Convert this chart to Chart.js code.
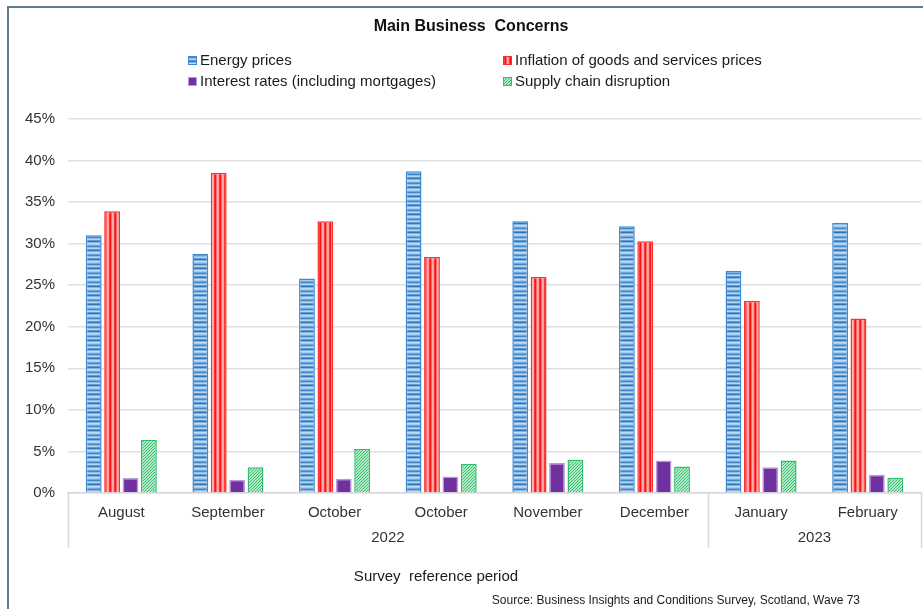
<!DOCTYPE html>
<html>
<head>
<meta charset="utf-8">
<script src="https://cdn.jsdelivr.net/npm/chart.js@4"></script>
<style>
  html, body { margin: 0; padding: 0; background: #fff; }
  #wrap { width: 923px; height: 609px; position: relative; }
</style>
</head>
<body>
<div id="wrap"><canvas id="myChart" width="923" height="609"></canvas></div>
<script>
// survey periods (month labels + year groups)
var meses = ['August', 'September', 'October', 'October', 'November', 'December', 'January', 'February'];
var anhos = ['2022', '2022', '2022', '2022', '2022', '2022', '2023', '2023'];

// share of businesses (%) naming each concern
var energia = [31.0, 28.8, 25.8, 38.7, 32.7, 32.1, 26.7, 32.5];
var inflacion = [33.9, 38.5, 32.7, 28.4, 26.0, 30.3, 23.1, 21.0];
var intereses = [1.8, 1.6, 1.7, 2.0, 3.6, 3.9, 3.1, 2.2];
var suministro = [6.4, 3.1, 5.3, 3.5, 4.0, 3.2, 3.9, 1.8];

var yTicks = [0, 5, 10, 15, 20, 25, 30, 35, 40, 45];

var FONT = '"Liberation Sans", Arial, sans-serif';

// little canvas tiles used as bar fills
function patron(w, h, dibujar) {
    var c = document.createElement('canvas');
    c.width = w;
    c.height = h;
    var g = c.getContext('2d');
    dibujar(g);
    return document.getElementById('myChart').getContext('2d').createPattern(c, 'repeat');
}

var rayasAzules = patron(1, 9, function (g) {
    var cols = ['#c4dcf2', '#a9cbec', '#6fa8dc', '#3f86c8', '#8fbbe6', '#b8d5f0', '#5b9bd5', '#2f78bd', '#7fb0e0'];
    for (var i = 0; i < cols.length; i++) { g.fillStyle = cols[i]; g.fillRect(0, i, 1, 1); }
});
var rayasRojas = patron(5, 1, function (g) {
    var cols = ['#ff1010', '#ff6a6a', '#ffb0b0', '#ff9a9a', '#ff3a3a'];
    for (var i = 0; i < cols.length; i++) { g.fillStyle = cols[i]; g.fillRect(i, 0, 1, 1); }
});
var rayasVerdes = patron(3, 3, function (g) {
    g.fillStyle = '#b6e9c9';
    g.fillRect(0, 0, 3, 3);
    g.fillStyle = '#35bf6c';
    for (var i = 0; i < 3; i++) { g.fillRect(2 - i, i, 1, 1); }
});

var series = [
    { label: 'Energy prices', data: energia, bg: rayasAzules, border: '#3d8ad0' },
    { label: 'Inflation of goods and services prices', data: inflacion, bg: rayasRojas, border: '#ff3030' },
    { label: 'Interest rates (including mortgages)', data: intereses, bg: '#7030a0', border: '#b99ad8' },
    { label: 'Supply chain disruption', data: suministro, bg: rayasVerdes, border: '#2fbf6a' }
];

// title, legend, year groups, axis title, source and frame
var decorado = {
    id: 'decorado',
    afterDraw: function (chart) {
        var ctx = chart.ctx;
        var area = chart.chartArea;
        var x = chart.scales.x;
        ctx.save();

        // outer frame
        ctx.strokeStyle = '#5f7c8c';
        ctx.lineWidth = 2;
        ctx.beginPath();
        ctx.moveTo(8, 609);
        ctx.lineTo(8, 7);
        ctx.lineTo(923, 7);
        ctx.stroke();

        ctx.fillStyle = '#111';
        ctx.textBaseline = 'middle';
        ctx.textAlign = 'center';
        ctx.font = 'bold 16px ' + FONT;
        ctx.fillText('Main Business  Concerns', 471, 27);

        // legend, two columns
        ctx.font = '15px ' + FONT;
        ctx.textAlign = 'left';
        var pos = [[188, 61], [503, 61], [188, 82], [503, 82]];
        for (var i = 0; i < series.length; i++) {
            var bx = pos[i][0], by = pos[i][1];
            ctx.fillStyle = series[i].bg;
            ctx.fillRect(bx, by - 5, 9, 9);
            ctx.strokeStyle = series[i].border;
            ctx.lineWidth = 1;
            ctx.strokeRect(bx + 0.5, by - 4.5, 8, 8);
            ctx.fillStyle = '#1a1a1a';
            ctx.fillText(series[i].label, bx + 12, by);
        }

        // year groups under the month labels
        var mitad = (x.getPixelForValue(1) - x.getPixelForValue(0)) / 2;
        var bordes = [area.left];
        var grupos = [];
        var inicio = 0;
        for (var j = 1; j <= anhos.length; j++) {
            if (j == anhos.length || anhos[j] != anhos[inicio]) {
                var fin = x.getPixelForValue(j - 1) + mitad;
                bordes.push(fin);
                grupos.push([anhos[inicio], (x.getPixelForValue(inicio) - mitad + fin) / 2]);
                inicio = j;
            }
        }
        ctx.strokeStyle = '#d9d9d9';
        ctx.lineWidth = 1.5;
        for (var k = 0; k < bordes.length; k++) {
            var bxp = Math.round(bordes[k]) + 0.5;
            ctx.beginPath();
            ctx.moveTo(bxp, area.bottom);
            ctx.lineTo(bxp, area.bottom + 55);
            ctx.stroke();
        }
        ctx.fillStyle = '#333';
        ctx.textAlign = 'center';
        for (var m = 0; m < grupos.length; m++) {
            ctx.fillText(grupos[m][0], grupos[m][1], area.bottom + 45);
        }

        ctx.fillStyle = '#1a1a1a';
        ctx.fillText('Survey  reference period', 436, 577);

        ctx.font = '12px ' + FONT;
        ctx.textAlign = 'right';
        ctx.fillText('Source: Business Insights and Conditions Survey, Scotland, Wave 73', 860, 601);
        ctx.restore();
    }
};

const config = {
    type: 'bar',
    data: {
        labels: meses,
        datasets: series.map(function (s) {
            return {
                label: s.label,
                data: s.data,
                backgroundColor: s.bg,
                borderColor: s.border,
                borderWidth: 1.5,
                categoryPercentage: 0.69,
                barPercentage: 0.86
            };
        })
    },
    options: {
        responsive: false,
        animation: false,
        layout: { padding: { top: 119, right: 2, left: 0, bottom: 0 } },
        plugins: {
            legend: { display: false },
            title: { display: false },
            tooltip: { enabled: false }
        },
        scales: {
            x: {
                grid: { display: false, drawTicks: false },
                border: { display: true, color: '#d9d9d9', width: 1.5 },
                ticks: {
                    font: { family: FONT, size: 15 },
                    color: '#333',
                    padding: 11,
                    maxRotation: 0,
                    autoSkip: false
                },
                afterFit: function (scale) { scale.height = 116; }
            },
            y: {
                min: 0,
                max: 45,
                afterBuildTicks: function (scale) {
                    scale.ticks = yTicks.map(function (v) { return { value: v }; });
                },
                grid: { color: '#e0e0e0', lineWidth: 1.5, drawTicks: false },
                border: { display: false },
                ticks: {
                    font: { family: FONT, size: 15 },
                    color: '#333',
                    padding: 13,
                    callback: function (v) { return v + '%'; }
                },
                afterFit: function (scale) { scale.width = 68; }
            }
        }
    },
    plugins: [decorado]
};

const myChart = new Chart(document.getElementById('myChart'), config);
</script>
</body>
</html>
